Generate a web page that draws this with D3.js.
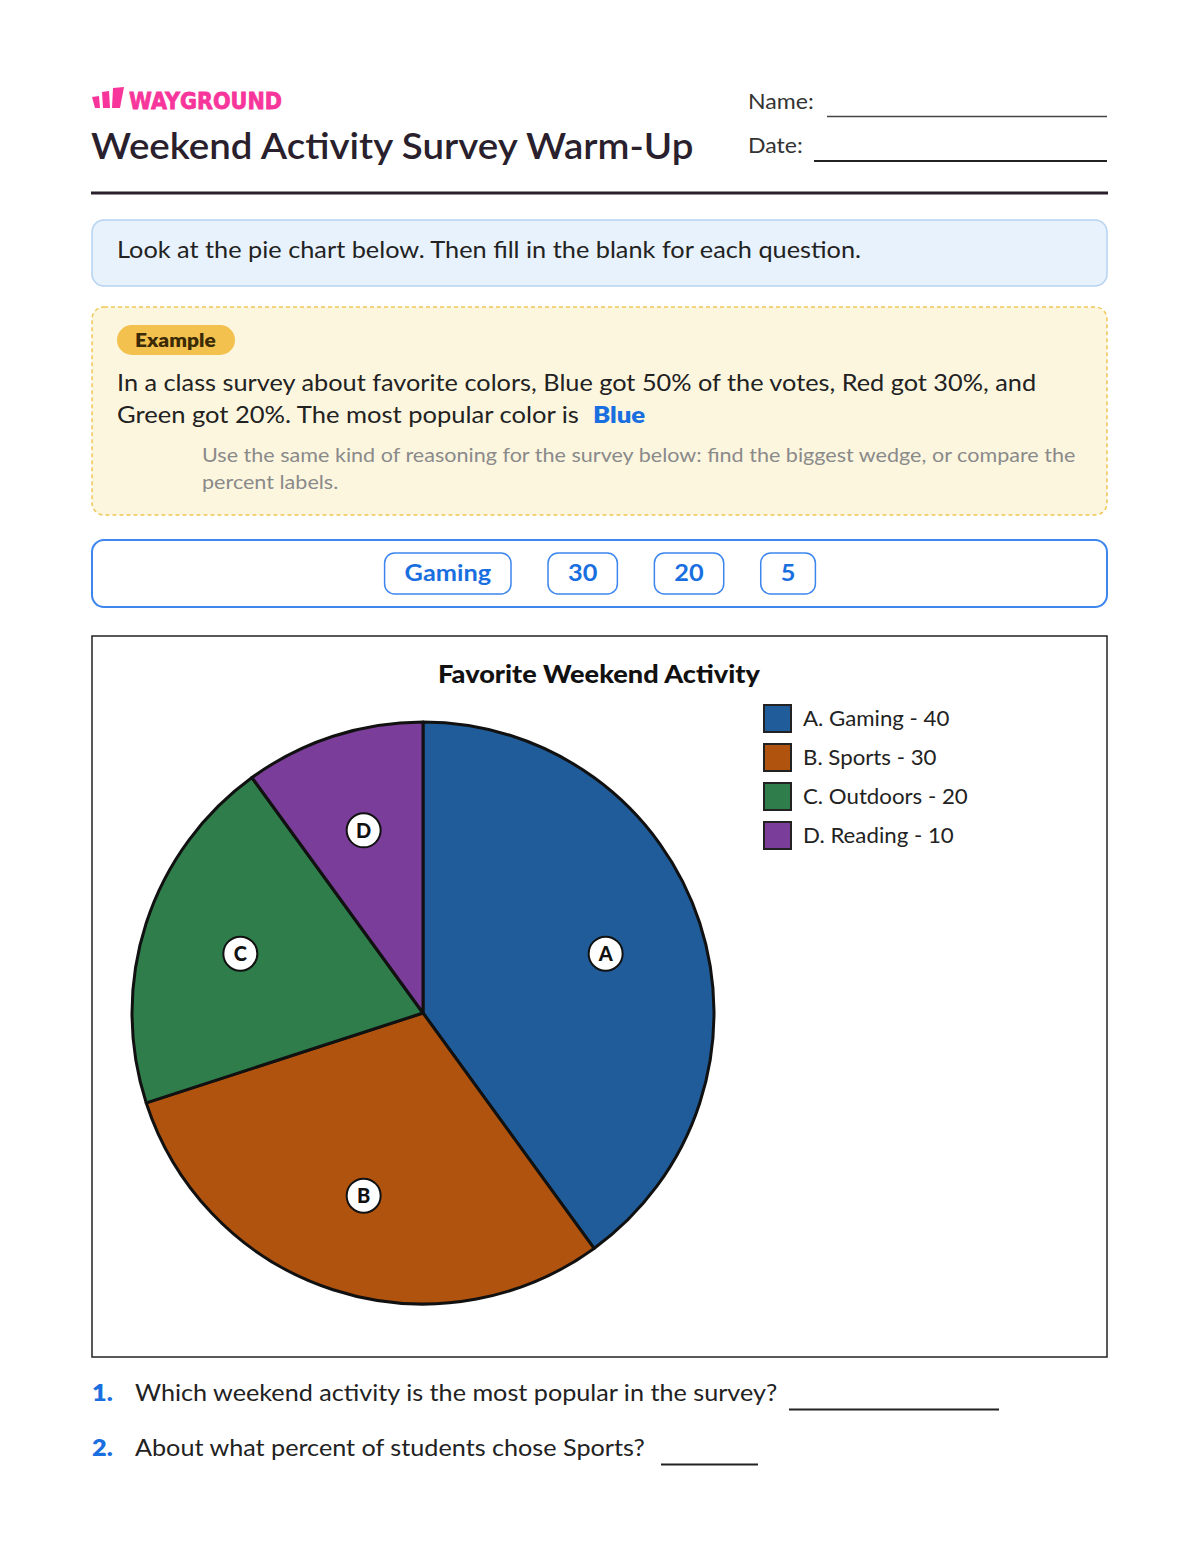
<!DOCTYPE html>
<html><head><meta charset="utf-8">
<script src="https://cdn.jsdelivr.net/npm/d3@7"></script>
<style>body{margin:0;background:#fff}svg{display:block}</style>
</head><body>
<script>
const categories = ["Gaming", "Sports", "Outdoors", "Reading"];
const letters = ["A", "B", "C", "D"];
const values = [40, 30, 20, 10];
const colors = ["#1f5c99", "#b0530e", "#2e7d4a", "#7b3d9a"];
const wordBank = ["Gaming", "30", "20", "5"];
const chartTitle = "Favorite Weekend Activity";

const F = "Lato, 'Noto Sans', sans-serif";
const W = 1200, H = 1552;
const svg = d3.select("body").append("svg").attr("width", W).attr("height", H);
const ink = "#2a1f2d";

// stretch text horizontally by a factor (reference face is wider than Lato)
function widen(sel, k) {
  sel.each(function () {
    const w = this.getComputedTextLength();
    d3.select(this).attr("textLength", w * k).attr("lengthAdjust", "spacingAndGlyphs");
  });
  return sel;
}

// Logo
const logo = svg.append("g").attr("fill", "#f7359b");
logo.append("path").attr("d", "M92,97 L99,96 L100,108 L95,108 Z");
logo.append("path").attr("d", "M102,92 L109,91 L110,108 L103,108 Z");
logo.append("path").attr("d", "M113,88 L124,87 L120,108 L112,108 Z");
svg.append("text").attr("x", 129).attr("y", 109).attr("font-family", "'DejaVu Sans', sans-serif")
  .attr("font-weight", 900).attr("font-size", 23)
  .attr("textLength", 153).attr("lengthAdjust", "spacingAndGlyphs")
  .attr("fill", "#f7359b").attr("stroke", "#f7359b").attr("stroke-width", 0.8).text("WAYGROUND");

widen(svg.append("text").attr("x", 91).attr("y", 159).attr("font-family", F).attr("font-size", 37)
  .attr("font-weight", 600).attr("fill", ink).text("Weekend Activity Survey Warm-Up"), 1.04);

widen(svg.append("text").attr("x", 748).attr("y", 109).attr("font-family", F).attr("font-size", 21).attr("fill", "#333").text("Name:"), 1.1);
svg.append("line").attr("x1", 827).attr("x2", 1107).attr("y1", 116.5).attr("y2", 116.5).attr("stroke", "#444").attr("stroke-width", 1.5);
widen(svg.append("text").attr("x", 748).attr("y", 153).attr("font-family", F).attr("font-size", 21).attr("fill", "#333").text("Date:"), 1.1);
svg.append("line").attr("x1", 814).attr("x2", 1107).attr("y1", 161).attr("y2", 161).attr("stroke", "#222").attr("stroke-width", 2);

svg.append("rect").attr("x", 91).attr("y", 191.5).attr("width", 1017).attr("height", 3).attr("fill", ink);

// Instruction box
svg.append("rect").attr("x", 92).attr("y", 220).attr("width", 1015).attr("height", 66).attr("rx", 12)
  .attr("fill", "#e8f2fc").attr("stroke", "#b5d2f0").attr("stroke-width", 1.5);
widen(svg.append("text").attr("x", 117).attr("y", 258).attr("font-family", F).attr("font-size", 23).attr("fill", "#222")
  .text("Look at the pie chart below. Then fill in the blank for each question."), 1.1);

// Example box
svg.append("rect").attr("x", 92).attr("y", 307).attr("width", 1015).attr("height", 208).attr("rx", 12)
  .attr("fill", "#fdf6df").attr("stroke", "#f0c656").attr("stroke-width", 1.5).attr("stroke-dasharray", "4,3");
svg.append("rect").attr("x", 117).attr("y", 325).attr("width", 118).attr("height", 30).attr("rx", 15).attr("fill", "#f2c14e");
widen(svg.append("text").attr("x", 135).attr("y", 347).attr("font-family", F).attr("font-size", 19)
  .attr("font-weight", 800).attr("fill", "#3a2a05").text("Example"), 1.1);
widen(svg.append("text").attr("x", 117).attr("y", 391).attr("font-family", F).attr("font-size", 23).attr("fill", "#222")
  .text("In a class survey about favorite colors, Blue got 50% of the votes, Red got 30%, and"), 1.1);
const l2 = widen(svg.append("text").attr("x", 117).attr("y", 423).attr("font-family", F).attr("font-size", 23).attr("fill", "#222")
  .text("Green got 20%. The most popular color is"), 1.11);
const l2end = 117 + (+l2.attr("textLength"));
widen(svg.append("text").attr("x", l2end + 14).attr("y", 423).attr("font-family", F).attr("font-size", 23)
  .attr("font-weight", 800).attr("fill", "#1a6fe0").text("Blue"), 1.12);
widen(svg.append("text").attr("x", 202).attr("y", 462).attr("font-family", F).attr("font-size", 19).attr("fill", "#8a8a8a")
  .text("Use the same kind of reasoning for the survey below: find the biggest wedge, or compare the"), 1.135);
widen(svg.append("text").attr("x", 202).attr("y", 489).attr("font-family", F).attr("font-size", 19).attr("fill", "#8a8a8a")
  .text("percent labels."), 1.135);

// Word bank
svg.append("rect").attr("x", 92).attr("y", 540).attr("width", 1015).attr("height", 67).attr("rx", 12)
  .attr("fill", "#fff").attr("stroke", "#3d86ee").attr("stroke-width", 2);
const chipGap = 37, chipPad = 20, chipY = 553, chipH = 41;
const chipG = svg.append("g");
const chipTexts = chipG.selectAll("text").data(wordBank).join("text")
  .attr("font-family", F).attr("font-size", 23).attr("font-weight", 700).attr("fill", "#1a6fe0")
  .attr("text-anchor", "middle").attr("y", chipY + 28).text(d => d);
widen(chipTexts, 1.1);
const widths = [];
chipTexts.each(function(){ widths.push(+this.getAttribute("textLength") + chipPad * 2); });
const total = d3.sum(widths) + chipGap * (widths.length - 1);
let cx = 600 - total / 2;
widths.forEach((w, i) => {
  chipG.insert("rect", "text").attr("x", cx).attr("y", chipY).attr("width", w).attr("height", chipH).attr("rx", 10)
    .attr("fill", "#fff").attr("stroke", "#3d86ee").attr("stroke-width", 1.5);
  d3.select(chipTexts.nodes()[i]).attr("x", cx + w / 2);
  cx += w + chipGap;
});

// Chart frame
svg.append("rect").attr("x", 92).attr("y", 636).attr("width", 1015).attr("height", 721)
  .attr("fill", "#fff").attr("stroke", "#222").attr("stroke-width", 1.5);
widen(svg.append("text").attr("x", 599).attr("y", 683).attr("text-anchor", "middle").attr("font-family", F)
  .attr("font-size", 24).attr("font-weight", 900).attr("fill", "#111").text(chartTitle), 1.13);

const data = categories.map((c, i) => ({ cat: c, letter: letters[i], value: values[i], color: colors[i] }));
const R = 291, center = [423, 1013];
const pie = d3.pie().value(d => d.value).sort(null);
const arc = d3.arc().innerRadius(0).outerRadius(R);
const labelArc = d3.arc().innerRadius(R * 0.66).outerRadius(R * 0.66);
const pg = svg.append("g").attr("transform", `translate(${center})`);
const arcs = pie(data);
pg.selectAll("path").data(arcs).join("path").attr("d", arc).attr("fill", d => d.data.color)
  .attr("stroke", "#111").attr("stroke-width", 3).attr("stroke-linejoin", "round");
const lg = pg.selectAll("g.lbl").data(arcs).join("g").attr("class", "lbl")
  .attr("transform", d => `translate(${labelArc.centroid(d)})`);
lg.append("circle").attr("r", 17).attr("fill", "#fff").attr("stroke", "#111").attr("stroke-width", 2);
lg.append("text").attr("text-anchor", "middle").attr("dy", "0.36em").attr("font-family", F)
  .attr("font-size", 20).attr("font-weight", 900).attr("fill", "#111").text(d => d.data.letter);

// Legend
const ly = d3.scaleBand().domain(categories).range([705, 705 + 39 * 4]);
const leg = svg.append("g").selectAll("g").data(data).join("g").attr("transform", d => `translate(764,${ly(d.cat)})`);
leg.append("rect").attr("width", 27).attr("height", 27).attr("fill", d => d.color).attr("stroke", "#222").attr("stroke-width", 2);
widen(leg.append("text").attr("x", 39).attr("y", 21).attr("font-family", F).attr("font-size", 21).attr("fill", "#222")
  .text(d => `${d.letter}. ${d.cat} - ${d.value}`), 1.06);

// Questions
const qs = [
  { n: "1.", t: "Which weekend activity is the most popular in the survey?", y: 1401, x1: 789, x2: 999 },
  { n: "2.", t: "About what percent of students chose Sports?", y: 1456, x1: 661, x2: 758 }
];
qs.forEach(q => {
  widen(svg.append("text").attr("x", 92).attr("y", q.y).attr("font-family", F).attr("font-size", 23).attr("font-weight", 800).attr("fill", "#1a6fe0").text(q.n), 1.1);
  widen(svg.append("text").attr("x", 135).attr("y", q.y).attr("font-family", F).attr("font-size", 23).attr("fill", "#222").text(q.t), 1.095);
  svg.append("line").attr("x1", q.x1).attr("x2", q.x2).attr("y1", q.y + 8.5).attr("y2", q.y + 8.5).attr("stroke", "#222").attr("stroke-width", 2);
});
</script>
</body></html>
